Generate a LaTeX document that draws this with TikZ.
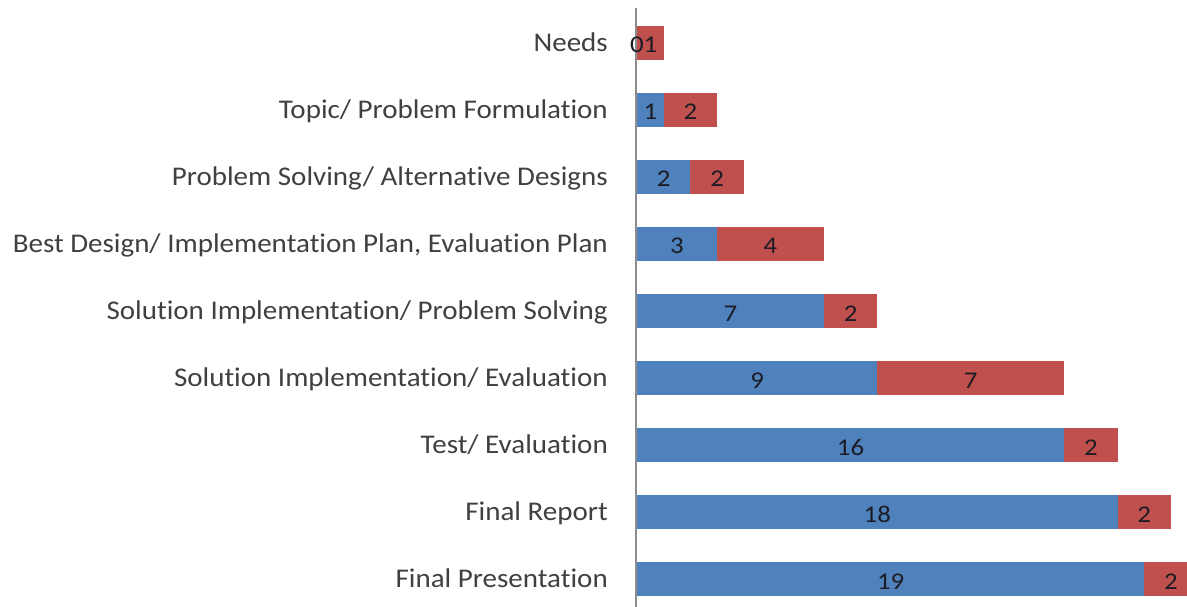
\documentclass[tikz,border=0pt]{standalone}
\usepackage{fontspec}
\setmainfont{Carlito}[Ligatures=NoCommon]
\definecolor{barblue}{HTML}{4F81BD}
\definecolor{barred}{HTML}{C0504D}
\definecolor{axisgray}{HTML}{8C8C8C}
\definecolor{labelgray}{HTML}{404040}
\definecolor{valcol}{HTML}{1C1C24}
\newcommand{\widelab}[1]{\scalebox{1.075}[1]{#1}}
\newcommand{\widenum}[1]{\scalebox{1.12}[1]{#1}}
\begin{document}
\begin{tikzpicture}[x=1pt,y=-1pt,
  catlabel/.style={anchor=base east, text=labelgray, font=\fontsize{27}{30}\selectfont, inner sep=0pt},
  vallabel/.style={anchor=base, text=valcol, font=\fontsize{24}{27}\selectfont, inner sep=0pt},
  bluebar/.style={fill=barblue},
  redbar/.style={fill=barred},
  axisline/.style={draw=axisgray, line width=2pt}]
\useasboundingbox (0,0) rectangle (1187,607);
\clip (0,0) rectangle (1187,607);
\fill[white] (0,0) rectangle (1187,607);
\coordinate (axtop) at (636,8);
\coordinate (axbot) at (636,607);
\draw[axisline] (axtop) -- (axbot);
\newcommand{\barrow}[5]{%
  \pgfmathsetmacro\yc{43+67*#2}%
  \pgfmathsetmacro\xb{637+26.7*#4}%
  \pgfmathsetmacro\xr{\xb+26.7*#5}%
  \fill[bluebar] (637,\yc-17) rectangle (\xb,\yc+17);
  \fill[redbar] (\xb,\yc-17) rectangle (\xr,\yc+17);
  \node[catlabel] (#1-lab) at (608,\yc+8.5) {\widelab{#3}};
  \node[vallabel] (#1-b) at ({(637+\xb)/2},\yc+10) {\widenum{#4}};
  \node[vallabel] (#1-r) at ({(\xb+\xr)/2},\yc+10) {\widenum{#5}};
}
\barrow{needs}{0}{Needs}{0}{1}
\barrow{topic}{1}{Topic/ Problem Formulation}{1}{2}
\barrow{solving}{2}{Problem Solving/ Alternative Designs}{2}{2}
\barrow{best}{3}{Best Design/ Implementation Plan, Evaluation Plan}{3}{4}
\barrow{implps}{4}{Solution Implementation/ Problem Solving}{7}{2}
\barrow{impleval}{5}{Solution Implementation/ Evaluation}{9}{7}
\barrow{test}{6}{Test/ Evaluation}{16}{2}
\barrow{report}{7}{Final Report}{18}{2}
\barrow{pres}{8}{Final Presentation}{19}{2}
\end{tikzpicture}
\end{document}
